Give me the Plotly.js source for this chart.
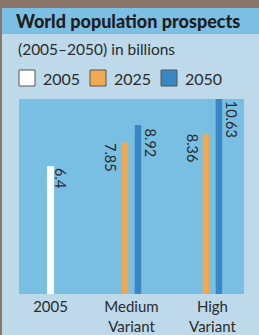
<!DOCTYPE html>
<html><head><meta charset="utf-8">
<script src="https://cdn.plot.ly/plotly-3.0.1.min.js"></script>
<style>html,body{margin:0;padding:0;background:#bdd9ea;} #chart{width:259px;height:335px;}</style>
</head><body><div id="chart"></div>
<script>
// ---- data ----
const categories = ["2005", "Medium Variant", "High Variant"];
const tickLabels = ["2005", "Medium<br>Variant", "High<br>Variant"];
const seriesNames = ["2005", "2025", "2050"];
const values2005 = [6.4, null, null];
const values2025 = [null, 7.85, 8.36];
const values2050 = [null, 8.92, 10.63];
const chartTitle = "World population prospects";
const chartSubtitle = "(2005–2050) in billions";

// ---- style ----
const W = 259, H = 335;
const M = {l: 19, r: 15, t: 99, b: 41};
const PW = W - M.l - M.r, PH = H - M.t - M.b;
const FONT = "Lato, 'Noto Sans', sans-serif";
const TXT = "#2b2b2b";
const colors = ["#ffffff", "#f1a94f", "#3a88c3"];
const offsets = [-0.043, -0.12, 0.04];
const widths = [0.086, 0.08, 0.08];
const labelXShift = [10.5, -20.5, 19];
const labelYShift = [-1, 1, -2.5];
const yRange = [-1.44, 10.52];
const base = yRange[0];

const px = x => (x - M.l) / PW;
const py = y => (M.t + PH - y) / PH;
const valToPaper = v => (v - yRange[0]) / (yRange[1] - yRange[0]);

const allSeries = [values2005, values2025, values2050];
const traces = allSeries.map((vals, i) => ({
  type: "bar",
  name: seriesNames[i],
  x: categories,
  y: vals.map(v => v == null ? null : v - base),
  base: base,
  offset: offsets[i],
  width: widths[i],
  customdata: vals,
  hovertemplate: "%{customdata}<extra>" + seriesNames[i] + "</extra>",
  marker: {color: colors[i], line: {width: 0}},
  cliponaxis: false,
  showlegend: false
}));

const annotations = [];
allSeries.forEach((vals, i) => {
  vals.forEach((v, j) => {
    if (v == null) return;
    annotations.push({
      x: j, y: valToPaper(v), xref: "x", yref: "paper",
      text: String(v), showarrow: false, textangle: 90,
      xanchor: "center", yanchor: "top",
      xshift: labelXShift[i], yshift: labelYShift[i],
      borderpad: 0,
      font: {family: FONT, size: 14.5, color: TXT}
    });
  });
});
annotations.push({
  x: px(16), y: py(48.5), xref: "paper", yref: "paper",
  xanchor: "left", yanchor: "middle", showarrow: false,
  text: chartSubtitle, font: {family: FONT, size: 15.5, color: TXT}
});

// manual legend
const legendSquareX = [19, 90, 161];
const shapes = [
  {type: "rect", xref: "paper", yref: "paper", x0: px(2), x1: px(W), y0: py(34), y1: py(8), fillcolor: "#7bbfe4", line: {width: 0}, layer: "below"},
  {type: "rect", xref: "paper", yref: "paper", x0: px(0), x1: px(W), y0: py(8), y1: py(0), fillcolor: "#8b766b", line: {width: 0}, layer: "below"},
  {type: "rect", xref: "paper", yref: "paper", x0: px(0), x1: px(2), y0: py(H), y1: py(0), fillcolor: "#8b766b", line: {width: 0}, layer: "below"}
];
seriesNames.forEach((n, i) => {
  const x0 = legendSquareX[i];
  shapes.push({type: "rect", xref: "paper", yref: "paper", x0: px(x0), x1: px(x0 + 16), y0: py(86), y1: py(70),
    fillcolor: colors[i], line: {width: 1, color: "#555555"}});
  annotations.push({x: px(x0 + 22), y: py(79), xref: "paper", yref: "paper", xanchor: "left", yanchor: "middle",
    showarrow: false, text: n, font: {family: FONT, size: 16, color: TXT}});
});

const layout = {
  width: W, height: H,
  margin: M,
  paper_bgcolor: "#bdd9ea",
  plot_bgcolor: "#79bfe4",
  showlegend: false,
  title: {text: chartTitle, x: 16 / W, xref: "container", xanchor: "left",
          y: 1 - 22 / H, yref: "container", yanchor: "middle",
          font: {family: FONT, size: 18, weight: 900, color: "#1e1e1e"}},
  xaxis: {type: "category", range: [-0.39, 2.39], tickvals: categories, ticktext: tickLabels,
          showgrid: false, zeroline: false, showline: false, ticks: "", ticklabelstandoff: 2,
          tickfont: {family: FONT, size: 15, color: TXT}, fixedrange: true},
  yaxis: {range: yRange, visible: false, showgrid: false, zeroline: false, fixedrange: true},
  barmode: "overlay",
  shapes: shapes,
  annotations: annotations,
  hovermode: false
};

Plotly.newPlot("chart", traces, layout, {displayModeBar: false, staticPlot: true});
</script>
</body></html>
